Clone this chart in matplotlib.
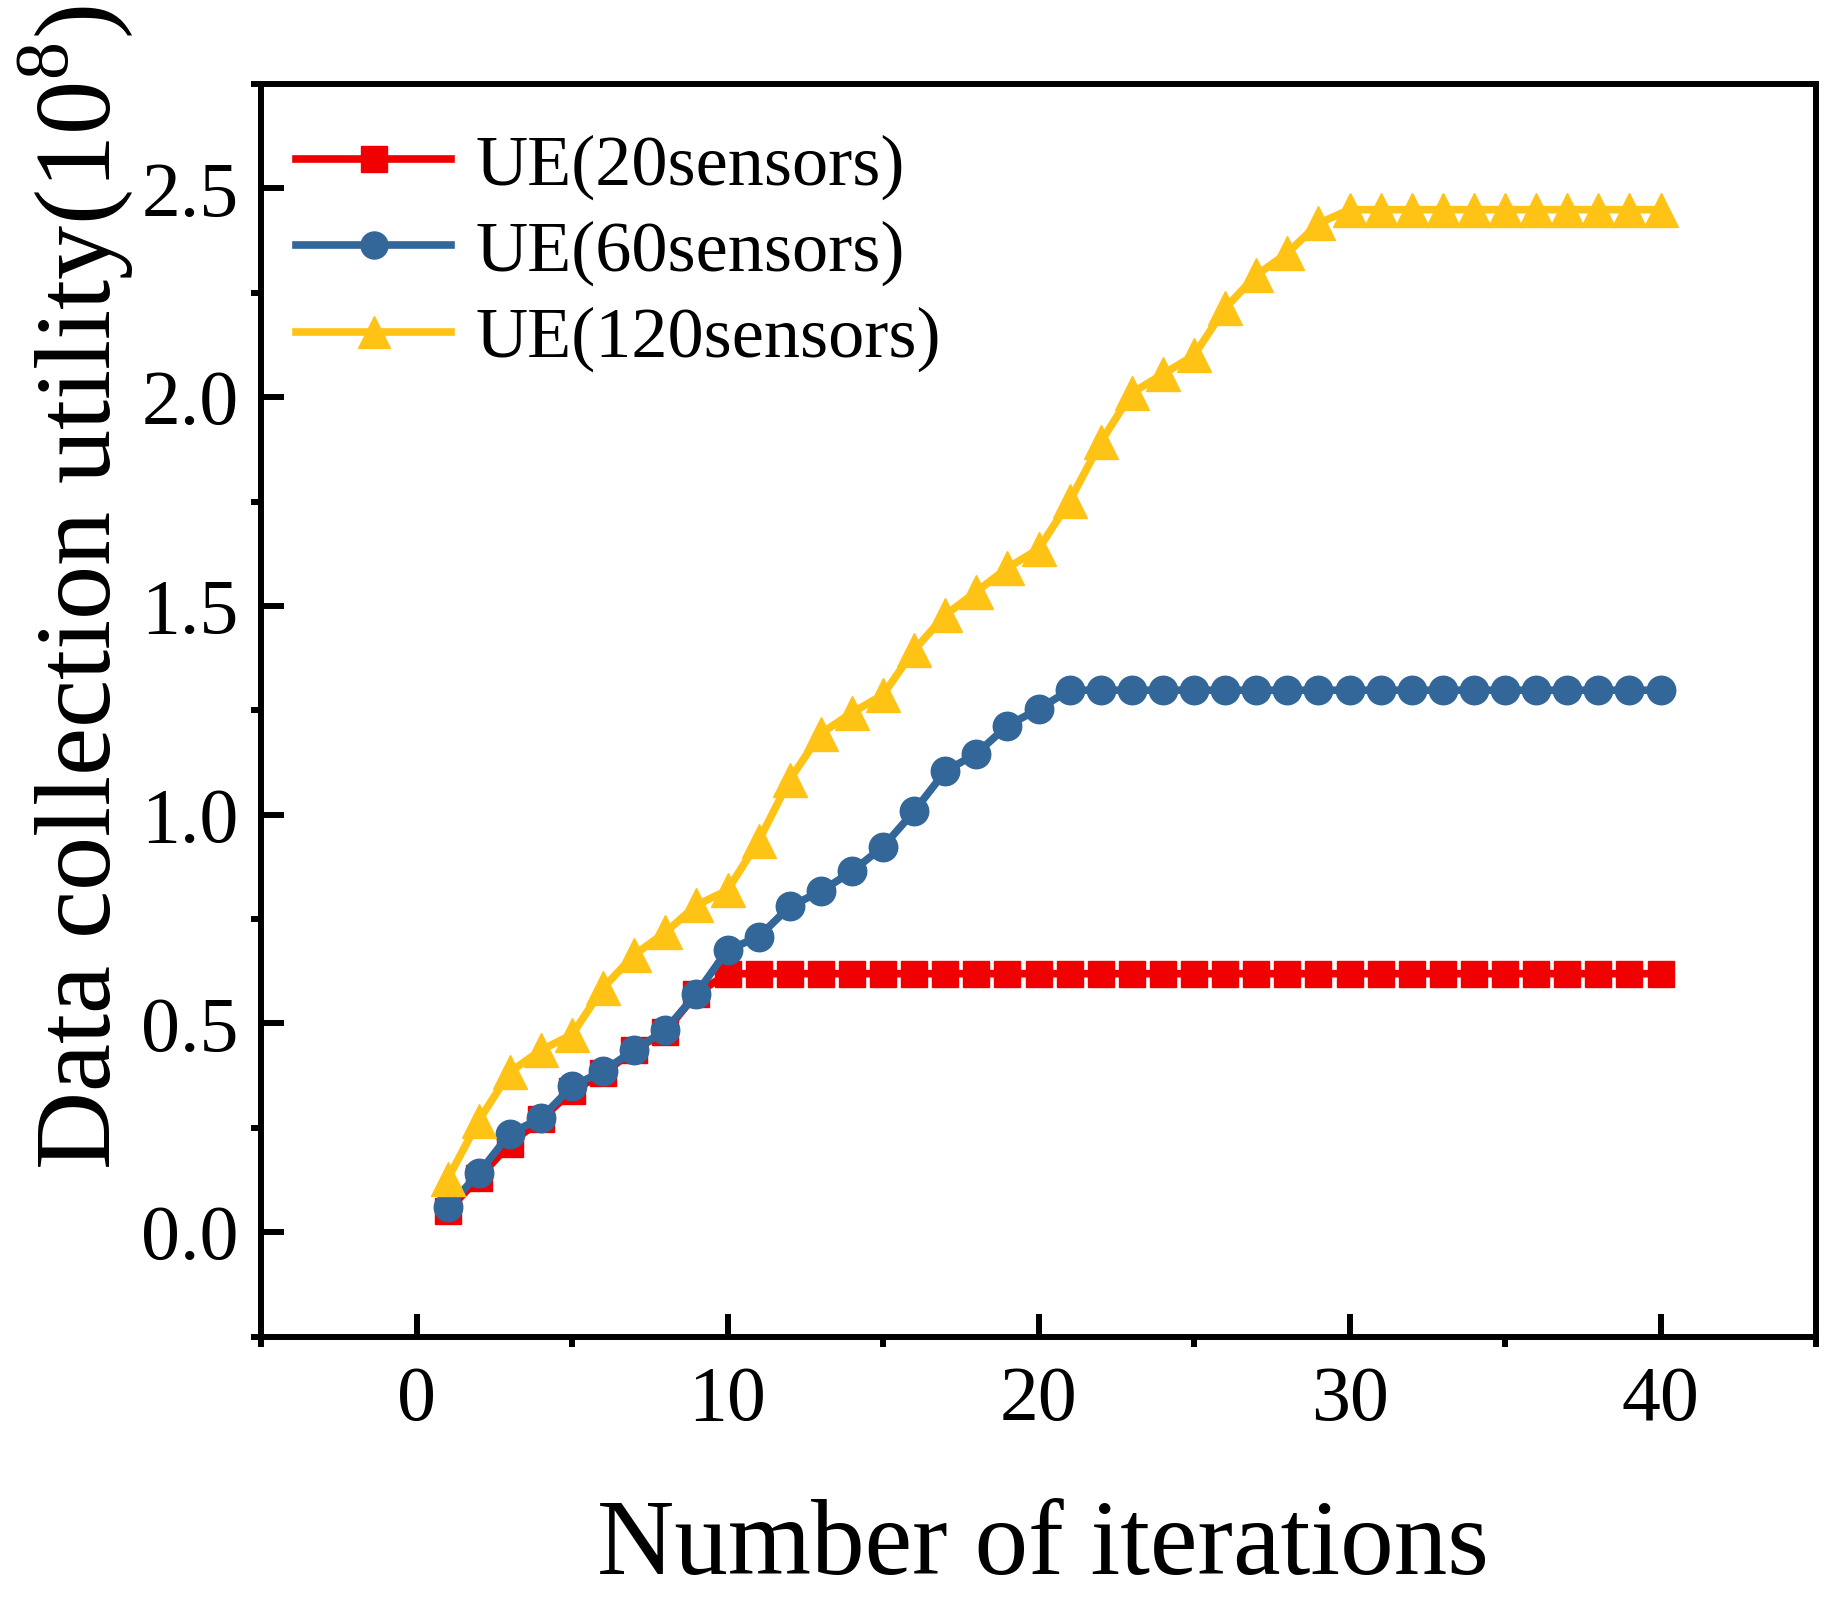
import numpy as np
import matplotlib
matplotlib.use("Agg")
import matplotlib.pyplot as plt
from matplotlib.ticker import MultipleLocator

plt.rcParams['font.family'] = ['Liberation Serif', 'DejaVu Serif']
plt.rcParams['mathtext.fontset'] = 'custom'
plt.rcParams['mathtext.rm'] = 'Liberation Serif'

iterations = list(range(1, 41))

# values (x 1e8)
ue_20 = [0.051, 0.13, 0.211, 0.27, 0.338, 0.38, 0.436, 0.48, 0.571] + [0.619] * 31
ue_60 = [0.059, 0.141, 0.236, 0.273, 0.349, 0.386, 0.436, 0.484, 0.571, 0.676,
         0.707, 0.780, 0.816, 0.864, 0.923, 1.008, 1.104, 1.146, 1.213, 1.253] + [1.298] * 20
ue_120 = [0.127, 0.267, 0.383, 0.436, 0.473, 0.585, 0.664, 0.718, 0.783, 0.819,
          0.937, 1.084, 1.194, 1.244, 1.287, 1.394, 1.478, 1.534, 1.591, 1.636,
          1.751, 1.892, 2.010, 2.055, 2.100, 2.213, 2.292, 2.345, 2.416] + [2.449] * 11

labels = ["UE(20sensors)", "UE(60sensors)", "UE(120sensors)"]
colors = ["#F00000", "#336699", "#FFC316"]

fig = plt.figure(figsize=(18.42, 16.02), dpi=100)
ax = fig.add_axes([261 / 1842, 1 - 1336.5 / 1602, (1816 - 261) / 1842, (1336.5 - 84) / 1602])

ax.plot(iterations, ue_20, color=colors[0], lw=5.5, marker="s", ms=19, label=labels[0])
ax.plot(iterations, ue_60, color=colors[1], lw=5.5, marker="o", ms=20.5, label=labels[1])
ax.plot(iterations, ue_120, color=colors[2], lw=5.5, marker="^", ms=24, label=labels[2])

ax.set_xlim(-5, 45)
ax.set_ylim(-0.25, 2.75)
ax.xaxis.set_major_locator(MultipleLocator(10))
ax.xaxis.set_minor_locator(MultipleLocator(5))
ax.yaxis.set_major_locator(MultipleLocator(0.5))
ax.yaxis.set_minor_locator(MultipleLocator(0.25))
ax.yaxis.set_major_formatter(matplotlib.ticker.FormatStrFormatter("%.1f"))

for s in ax.spines.values():
    s.set_linewidth(4.3)
ax.tick_params(which="major", direction="in", length=16.5, width=4.3, labelsize=56, pad=16)
ax.tick_params(axis="x", which="major", pad=21)
ax.tick_params(which="minor", direction="out", length=7, width=4.3)
ax.tick_params(which="both", top=False, right=False)

fig.text(1043 / 1842, 1 - 1574 / 1602, "Number of iterations", fontsize=77,
         ha="center", va="baseline")
fig.text(76 / 1842, 1 - 588 / 1602, "Data collection utility(10$^{8}$)", fontsize=78,
         rotation=90, ha="center", va="center")

ax.legend(loc="upper left", bbox_to_anchor=(35 / 1555, 1 - 50 / 1252), frameon=False,
          fontsize=52, handlelength=2.15, handletextpad=0.33, labelspacing=0.28,
          markerscale=0.95, borderaxespad=0, borderpad=0)

fig.savefig("out.png", dpi=100)
